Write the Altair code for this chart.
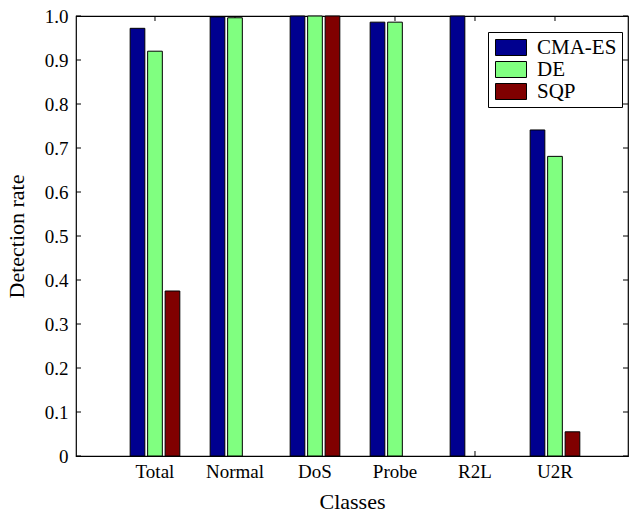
import altair as alt
import pandas as pd

categories = ["Total", "Normal", "DoS", "Probe", "R2L", "U2R"]
series = ["CMA-ES", "DE", "SQP"]
cma_es = [0.972, 0.998, 1.0, 0.986, 1.0, 0.741]
de = [0.920, 0.996, 1.0, 0.986, 0.0, 0.681]
sqp = [0.375, 0.0, 1.0, 0.0, 0.0, 0.055]
colors = ["#00008F", "#80FF80", "#800000"]
y_ticks = [0.0, 0.1, 0.2, 0.3, 0.4, 0.5, 0.6, 0.7, 0.8, 0.9, 1.0]

rows = []
for name, vals in zip(series, [cma_es, de, sqp]):
    for c, v in zip(categories, vals):
        rows.append({"cls": c, "method": name, "value": v})
df = pd.DataFrame(rows)
tick_df = pd.DataFrame({"t": y_ticks})
cat_df = pd.DataFrame({"cls": categories})

FONT = "Liberation Serif"
W, H = 552, 440

xscale = alt.Scale(domain=categories, paddingInner=0.344, paddingOuter=0.622, align=0.53)
yscale = alt.Scale(domain=[0, 1], nice=False, zero=True)

x_enc = alt.X(
    "cls:N", scale=xscale, sort=categories, title="Classes",
    axis=alt.Axis(labelAngle=0, labelAlign="center", labelBaseline="top",
                  labelFontSize=19, labelPadding=6, titleFontSize=22,
                  titlePadding=10, domain=False, ticks=False, grid=False,
                  labelFont=FONT, titleFont=FONT, labelColor="black", titleColor="black",
                  titleFontWeight="normal"),
)

bars = alt.Chart(df).transform_filter("datum.value > 0").mark_bar(
    stroke="black", strokeWidth=1
).encode(
    x=x_enc,
    xOffset=alt.XOffset("method:N", sort=series,
                        scale=alt.Scale(domain=series, paddingInner=0.16, paddingOuter=0.08)),
    y=alt.Y("value:Q", scale=yscale, title="Detection rate",
            axis=alt.Axis(values=y_ticks, labelExpr="datum.value == 0 ? '0' : format(datum.value, '.1f')",
                          labelFontSize=19, labelPadding=8, titleFontSize=22, titlePadding=16,
                          domain=False, ticks=False, grid=False, labelFont=FONT, titleFont=FONT,
                          labelColor="black", titleColor="black", titleFontWeight="normal")),
    color=alt.Color("method:N", sort=series,
                    scale=alt.Scale(domain=series, range=colors),
                    legend=alt.Legend(
                        title=None, orient="none", legendX=412, legendY=16,
                        fillColor="white", strokeColor="black", padding=5,
                        symbolType="M-1,-1L2.875,-1L2.875,1L-1,1Z", symbolSize=256,
                        symbolStrokeColor="black", symbolStrokeWidth=1, symbolOpacity=1,
                        labelFont=FONT, labelFontSize=21, labelColor="black",
                        labelOffset=23, rowPadding=0)),
)

left_ticks = alt.Chart(tick_df).mark_rule(color="black", strokeWidth=1).encode(
    y=alt.Y("t:Q", scale=yscale), x=alt.value(0), x2=alt.value(5))
right_ticks = alt.Chart(tick_df).mark_rule(color="black", strokeWidth=1).encode(
    y=alt.Y("t:Q", scale=yscale), x=alt.value(W), x2=alt.value(W - 5))
top_ticks = alt.Chart(cat_df).mark_rule(color="black", strokeWidth=1).encode(
    x=alt.X("cls:N", scale=xscale, sort=categories), y=alt.value(0), y2=alt.value(5))
bottom_ticks = alt.Chart(cat_df).mark_rule(color="black", strokeWidth=1).encode(
    x=alt.X("cls:N", scale=xscale, sort=categories), y=alt.value(H), y2=alt.value(H - 5))

chart = alt.layer(left_ticks, right_ticks, top_ticks, bottom_ticks, bars).properties(
    width=W, height=H,
    autosize=alt.AutoSizeParams(type="none"),
    padding={"left": 76, "top": 16, "right": 4, "bottom": 59},
    background="white",
).configure_view(stroke="black", strokeWidth=1.2).configure_axis(
    labelFont=FONT, titleFont=FONT
).configure_legend(labelFont=FONT).configure_text(font=FONT)

chart.save("out.html", embed_options={"renderer": "svg", "actions": False})
